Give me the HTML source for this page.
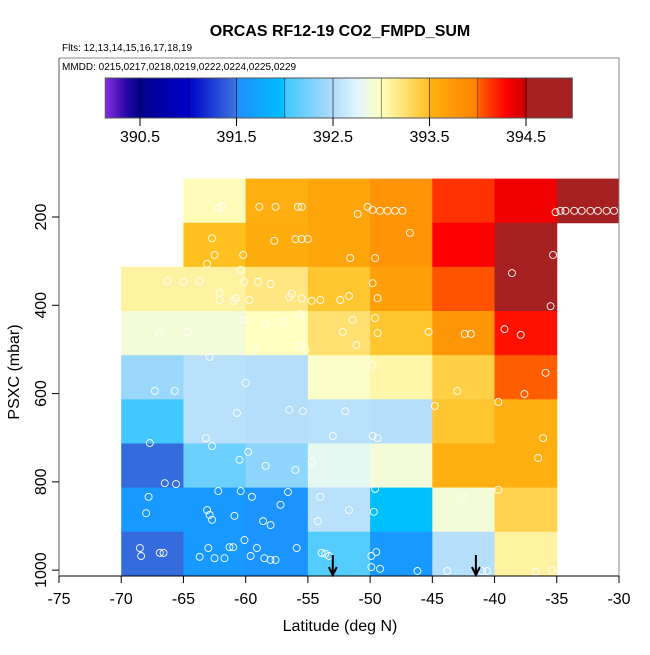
<!DOCTYPE html>
<html><head><meta charset="utf-8"><style>
body{margin:0;background:#fff}
svg text{font-family:"Liberation Sans",sans-serif}
</style></head><body>
<svg id="c" width="650" height="650" viewBox="0 0 650 650" xmlns="http://www.w3.org/2000/svg">
<text x="340" y="36" text-anchor="middle" font-size="16" font-weight="bold">ORCAS RF12-19 CO2_FMPD_SUM</text>
<text x="62" y="51" font-size="10">Flts: 12,13,14,15,16,17,18,19</text>
<text x="62" y="70" font-size="10">MMDD: 0215,0217,0218,0219,0222,0224,0225,0229</text>
<g id="cells"></g>
<g id="pts"></g>
<g id="cbar"></g>
<g id="axes"></g>
<text x="340" y="631" text-anchor="middle" font-size="16">Latitude (deg N)</text>
<text transform="translate(19,372) rotate(-90)" text-anchor="middle" font-size="16">PSXC (mbar)</text>
</svg>
<script>
const latEdges=[-70,-65,-60,-55,-50,-45,-40,-35,-30];
const pEdges=[113,213,313,413,513,613,713,813,913,1013];
// values[col][row], row 0 = top (lowest pressure); null = no data
const values=[
[null,null,393.1,392.9,392.4,392.02,391.45,391.6,391.45],
[393.02,393.5,393.1,392.9,392.55,392.55,392.2,391.6,391.6],
[393.52,393.55,393.2,393.0,392.52,392.52,392.35,391.55,391.55],
[393.62,393.62,393.45,393.25,392.97,392.55,392.8,392.55,392.1],
[393.8,393.8,393.68,393.45,393.07,392.53,392.9,392.0,391.6],
[394.15,394.3,394.05,393.78,393.38,393.45,393.52,392.9,392.53],
[394.35,394.68,394.55,394.25,394.02,393.52,393.52,393.35,393.1],
[394.55,null,null,null,null,null,null,null,null]];
const cbTicks=[390.5,391.5,392.5,393.5,394.5];
const ptLat=[-62.2,-61.9,-58.9,-57.6,-55.8,-55.5,-51.0,-50.2,-49.8,-49.2,-48.6,-48.0,-47.4,-46.8,-62.7,-57.7,-56.0,-55.5,-55.0,-62.5,-60.2,-60.4,-63.1,-51.6,-49.6,-49.8,-35.1,-34.7,-34.3,-33.6,-33.0,-32.3,-31.7,-31.0,-30.4,-35.3,-38.6,-66.3,-65.0,-63.7,-62.1,-61.0,-59.7,-59.0,-58.0,-56.5,-56.3,-55.5,-54.7,-54.0,-52.4,-51.7,-49.4,-60.1,-60.8,-62.1,-35.5,-39.2,-37.9,-66.9,-64.7,-60.2,-58.4,-57.0,-55.6,-51.4,-52.2,-49.6,-49.4,-51.1,-45.3,-42.4,-41.9,-59.2,-55.6,-55.2,-62.9,-60.0,-67.3,-65.7,-49.8,-35.9,-43.0,-37.6,-44.8,-39.7,-60.7,-63.2,-56.5,-55.4,-52.0,-49.8,-49.4,-53.0,-67.7,-36.1,-36.5,-62.7,-60.5,-59.8,-58.4,-56.0,-54.7,-65.6,-67.8,-68.0,-66.5,-63.1,-62.9,-62.7,-62.2,-60.9,-60.4,-59.5,-58.6,-58.0,-57.2,-56.6,-54.0,-54.2,-49.6,-49.7,-51.7,-42.5,-39.7,-68.5,-68.4,-66.9,-66.6,-63.0,-62.5,-61.3,-61.0,-60.1,-59.6,-59.1,-58.5,-58.0,-57.6,-55.9,-53.9,-53.3,-53.6,-49.9,-49.5,-49.9,-49.2,-46.2,-43.8,-41.0,-40.6,-36.7,-35.4,-61.7,-63.7];
const ptP=[180,177,177,177,177,177,193,177,184,186,186,186,186,236,248,254,250,250,250,286,286,320,306,293,293,350,189,186,186,186,186,186,186,186,186,286,327,345,347,345,372,390,388,347,352,381,374,384,390,388,388,379,384,347,384,388,402,454,467,465,460,433,442,438,420,433,460,429,463,490,460,465,465,501,492,501,517,576,594,594,535,553,594,601,628,619,644,701,637,640,640,696,701,696,712,701,746,719,750,732,764,773,755,805,834,871,803,864,875,886,821,877,821,834,889,898,852,823,834,889,816,868,864,834,818,950,968,961,961,950,973,948,948,932,968,950,973,977,977,950,961,968,963,968,959,993,997,1002,1002,1002,1002,1004,1000,973,970];
const arrowLat=[-53,-41.5];
const xTicks=[-75,-70,-65,-60,-55,-50,-45,-40,-35,-30];
const yTicks=[200,400,600,800,1000];

const NS='http://www.w3.org/2000/svg';
const X=l=>59+(l+75)*560/45;
const Y=p=>217+(p-200)*0.4414;
const stops=[[390.14,'#8a2be2'],[390.35,'#2a0aa8'],[390.5,'#00008b'],[391.0,'#0000c8'],[391.5,'#3a78e0'],[391.51,'#1e90ff'],[392.0,'#00bfff'],[392.01,'#40c8ff'],[392.5,'#b0dcfa'],[392.75,'#e0f6ff'],[393.0,'#ffffc0'],[393.5,'#ffc020'],[393.51,'#ffb010'],[394.0,'#ff8000'],[394.01,'#ff6000'],[394.3,'#ff0000'],[394.5,'#c80000'],[394.51,'#a52020'],[394.98,'#a52020']];
const hex=h=>[1,3,5].map(i=>parseInt(h.substr(i,2),16));
function col(v){
 if(v<=stops[0][0])return stops[0][1];
 for(let i=1;i<stops.length;i++){if(v<=stops[i][0]){const a=stops[i-1],b=stops[i],t=(v-a[0])/(b[0]-a[0]);const ca=hex(a[1]),cb=hex(b[1]);return 'rgb('+ca.map((c,k)=>Math.round(c+(cb[k]-c)*t)).join(',')+')';}}
 return stops[stops.length-1][1];
}
function mk(tag,attrs,parent){const e=document.createElementNS(NS,tag);for(const k in attrs)e.setAttribute(k,attrs[k]);parent.appendChild(e);return e;}
const cells=document.getElementById('cells');
values.forEach((c,i)=>c.forEach((v,j)=>{if(v==null)return;
 const r=mk('rect',{x:X(latEdges[i]),y:Y(pEdges[j]),width:X(latEdges[i+1])-X(latEdges[i])+0.5,height:Y(pEdges[j+1])-Y(pEdges[j])+0.5,fill:col(v)},cells);
 
 
}));
const pts=document.getElementById('pts');
ptLat.forEach((l,i)=>{const c=mk('circle',{cx:X(l),cy:Y(ptP[i]),r:3.5,fill:'none',stroke:'#fff','stroke-width':0.9},pts);
 
 
});
arrowLat.forEach(l=>{const g=mk('g',{},pts);
 
 
 const x=X(l);mk('line',{x1:x,y1:555,x2:x,y2:575,stroke:'#000','stroke-width':2},g);
 mk('polyline',{points:`${x-4},${567} ${x},${575} ${x+4},${567}`,fill:'none',stroke:'#000','stroke-width':2},g);
});
// colorbar
const cb=document.getElementById('cbar');
const CX=v=>140+(v-390.5)*96.5;
const v0=390.14,v1=394.98;
const defs=mk('defs',{},cb);const lg=mk('linearGradient',{id:'g',x1:0,x2:1,y1:0,y2:0},defs);
stops.forEach(s=>mk('stop',{offset:(s[0]-v0)/(v1-v0),'stop-color':s[1]},lg));
const bar=mk('rect',{x:CX(v0),y:78,width:CX(v1)-CX(v0),height:40,fill:'url(#g)',stroke:'#555'},cb);


for(let v=390.5;v<=394.51;v+=0.5){const x=CX(v);mk('line',{x1:x,y1:78,x2:x,y2:v%1===0?118:126,stroke:'#000','stroke-width':v%1===0?0.6:0.8,'stroke-opacity':0.7},cb);}
cbTicks.forEach(v=>{const x=CX(v);mk('line',{x1:x,y1:118,x2:x,y2:126,stroke:'#000'},cb);
 const t=mk('text',{x:x,y:142,'text-anchor':'middle','font-size':16},cb);t.textContent=v.toFixed(1);
 
 
});
// axes
const ax=document.getElementById('axes');
mk('rect',{x:59,y:58,width:560,height:518,fill:'none',stroke:'#888','stroke-width':1},ax);
mk('line',{x1:59,y1:576,x2:619,y2:576,stroke:'#000'},ax);
mk('line',{x1:59,y1:58,x2:59,y2:576,stroke:'#555'},ax);
xTicks.forEach(v=>{const x=X(v);mk('line',{x1:x,y1:576,x2:x,y2:583,stroke:'#000'},ax);
 const t=mk('text',{x:x,y:604,'text-anchor':'middle','font-size':16},ax);t.textContent=v;
 
 
});
yTicks.forEach(v=>{const y=Y(v);mk('line',{x1:52,y1:y,x2:59,y2:y,stroke:'#000'},ax);
 const t=mk('text',{transform:`translate(46,${y}) rotate(-90)`,'text-anchor':'middle','font-size':16},ax);t.textContent=v;
 
 
});
</script>
</body></html>
